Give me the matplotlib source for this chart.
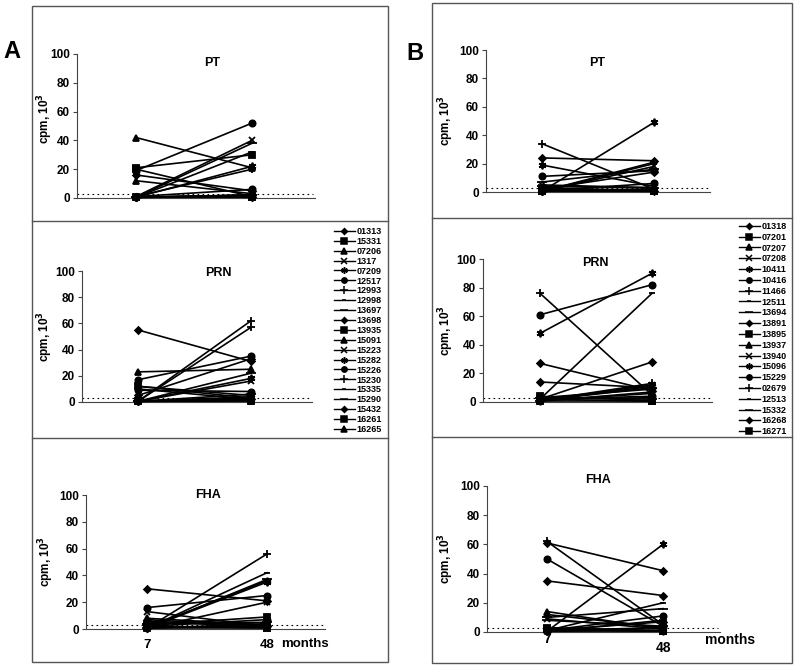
import numpy as np
import matplotlib
matplotlib.use('Agg')
import matplotlib.pyplot as plt
from matplotlib.lines import Line2D
from matplotlib.patches import Rectangle

plt.rcParams['font.family'] = ['Liberation Sans', 'DejaVu Sans']
plt.rcParams['font.weight'] = 'bold'

#--- data (cpm x 10^3 at 7 and 48 months) ---

ids_a = ['01313', '15331', '07206', '1317', '07209', '12517', '12993',
         '12998', '13697', '13698', '13935', '15091', '15223', '15282',
         '15226', '15230', '15335', '15290', '15432', '16261', '16265']

pt_a_7 = [16, 21, 42, 1, 0.5, 19, 1, 0.5, 0.5, 0.5, 20, 12, 0.5, 0.5,
          1, 0.5, 0.5, 0.5, 0.5, 1, 0.5]
pt_a_48 = [5, 30, 21, 40, 22, 52, 20, 32, 38, 2, 1, 3, 2, 1,
           6, 1.5, 1, 2, 1, 0.5, 2]

prn_a_7 = [55, 12, 23, 0.5, 0.5, 17, 0.5, 10, 0.5, 5, 0.5, 0.5, 12, 0.5,
           9, 0.5, 0.5, 0.5, 1, 0.5, 0.5]
prn_a_48 = [31, 3, 25, 16, 18, 35, 62, 2, 22, 33, 2, 3, 5, 4,
            8, 57, 1, 6, 2, 0.5, 1]

fha_a_7 = [30, 2, 5, 0.5, 0.5, 16, 0.5, 0.5, 0.5, 7, 3, 8, 13, 1,
           2, 0.5, 6, 4, 1, 0.5, 2]
fha_a_48 = [21, 1, 3, 20, 35, 25, 56, 42, 37, 2, 9, 3, 2, 36,
            7, 4, 1, 5, 2, 0.5, 1]

ids_b = ['01318', '07201', '07207', '07208', '10411', '10416', '11466',
         '12511', '13694', '13891', '13895', '13937', '13940', '15096',
         '15229', '02679', '12513', '15332', '16268', '16271']

pt_b_7 = [24, 3, 1, 0.5, 0.5, 11, 34, 0.5, 7, 2, 1, 0.5, 5, 19,
          1, 0.5, 2, 4, 0.5, 1]
pt_b_48 = [22, 1, 2, 18, 49, 15, 2, 20, 16, 14, 0.5, 2, 3, 4,
           6, 21, 1, 3, 1, 0.5]

prn_b_7 = [27, 4, 2, 1, 48, 61, 76, 2, 1, 14, 2, 1, 3, 1,
           2, 1, 0.5, 3, 2, 0.5]
prn_b_48 = [8, 1, 3, 12, 90, 82, 5, 76, 10, 10, 0.5, 6, 9, 11,
            4, 13, 7, 2, 28, 0.5]

fha_b_7 = [61, 3, 14, 1, 0.5, 50, 62, 1, 10, 35, 2, 12, 9, 0.5,
           1, 0.5, 1, 8, 1, 2]
fha_b_48 = [42, 1, 2, 3, 60, 4, 5, 20, 16, 25, 1, 3, 2, 1,
            11, 8, 0.5, 4, 7, 0.5]

# excel-ish marker cycle
markers = [('D', 3.5), ('s', 4.5), ('^', 4.5), ('x', 4.5), ((6, 2, 0), 5.5),
           ('o', 4.5), ('+', 6), ('_', 4), ('_', 7)]

W, H = 800, 671
fig = plt.figure(figsize=(W / 100, H / 100), dpi=100)


def fx(px):
    return px / W


def fy(py):
    return 1 - py / H


def panel(geom, v7, v48, title, title_xy, lab_x, lab_y=0.5):
    ax_x, p1, p2, right, y100, y0 = geom
    ax = fig.add_axes([fx(ax_x), fy(y0), (right - ax_x) / W, (y0 - y100) / H])
    sc = p2 - p1
    xl = (1 - (p1 - ax_x) / sc, 2 + (right - p2) / sc)
    ax.set_xlim(*xl)
    ax.set_ylim(0, 100)
    for i in range(len(v7)):
        m, ms = markers[i % len(markers)]
        ax.plot([1, 2], [v7[i], v48[i]], color='black', lw=1.2, marker=m,
                ms=ms, mew=1.3, clip_on=False, zorder=3)
    ax.plot([xl[0], xl[1] - 0.02], [3, 3], ls=(0, (1.5, 3)), color='black',
            lw=0.8, zorder=1)
    for s in ['top', 'right']:
        ax.spines[s].set_visible(False)
    for s in ['left', 'bottom']:
        ax.spines[s].set_color('#444444')
        ax.spines[s].set_linewidth(0.8)
    ax.set_yticks(np.arange(0, 101, 20))
    ax.tick_params(axis='y', length=3, width=0.8, pad=2, labelsize=8.5,
                   color='#444444')
    ax.set_xticks([])
    fig.text(fx(title_xy[0]), fy(title_xy[1]), title, fontsize=9,
             fontweight='bold', ha='center', va='center')
    ax.set_ylabel('cpm, 10$^\\mathbf{3}$', fontsize=8.5, fontweight='bold')
    ax.yaxis.set_label_coords((lab_x - ax_x) / (right - ax_x), lab_y)
    return ax


ax1 = panel((77, 136, 252, 315, 54, 198), pt_a_7, pt_a_48, 'PT',
            (212, 63), 55, 0.55)
ax2 = panel((82, 138, 251, 312, 271, 402), prn_a_7, prn_a_48, 'PRN',
            (218, 273), 55)
ax3 = panel((86, 147, 267, 325, 495, 629), fha_a_7, fha_a_48, 'FHA',
            (208, 495), 56)
ax4 = panel((486, 542, 654, 710, 50, 192), pt_b_7, pt_b_48, 'PT',
            (597, 63), 456)
ax5 = panel((483, 540, 652, 712, 259, 402), prn_b_7, prn_b_48, 'PRN',
            (595, 263), 456)
ax6 = panel((487, 547, 663, 720, 486, 632), fha_b_7, fha_b_48, 'FHA',
            (598, 480), 456)

# x labels
ax3.set_xticks([1, 2])
ax3.set_xticklabels(['7', '48'], fontsize=9.5)
ax3.tick_params(axis='x', length=0, pad=7)
fig.text(fx(281), fy(644), 'months', fontsize=9.5, fontweight='bold',
         ha='left', va='center')

tr = ax6.get_xaxis_transform()
ax6.text(1, -0.05, '7', transform=tr, fontsize=10, fontweight='bold',
         ha='center', va='center')
ax6.text(2, -0.11, '48', transform=tr, fontsize=10, fontweight='bold',
         ha='center', va='center')
fig.text(fx(730), fy(640), 'months', fontsize=10, fontweight='bold',
         ha='center', va='center')


# legends
def legend(ids, x, y, spacing):
    handles = []
    for i in range(len(ids)):
        m, ms = markers[i % len(markers)]
        handles.append(Line2D([], [], color='black', lw=1.0, marker=m,
                              ms=ms * 0.85, mew=1.1))
    fig.legend(handles, ids, loc='upper left', bbox_to_anchor=(fx(x), fy(y)),
               frameon=False, fontsize=6.5, handlelength=2.3,
               handletextpad=0.2, labelspacing=spacing, borderpad=0,
               borderaxespad=0)


legend(ids_a, 334, 227, 0.1)
legend(ids_b, 739, 222, 0.2)

# panel frames
frame = '#555555'
fig.add_artist(Rectangle((fx(32), fy(662)), fx(388) - fx(32), fy(6) - fy(662),
                         transform=fig.transFigure, fill=False,
                         edgecolor=frame, lw=1))
fig.add_artist(Rectangle((fx(432), fy(663)), fx(792) - fx(432), fy(3) - fy(663),
                         transform=fig.transFigure, fill=False,
                         edgecolor=frame, lw=1))
for yy in [221, 438]:
    fig.add_artist(Line2D([fx(32), fx(388)], [fy(yy), fy(yy)],
                          transform=fig.transFigure, color=frame, lw=1))
for yy in [218, 437]:
    fig.add_artist(Line2D([fx(432), fx(792)], [fy(yy), fy(yy)],
                          transform=fig.transFigure, color=frame, lw=1))

fig.text(fx(12), fy(52), 'A', fontsize=17, fontweight='bold',
         ha='center', va='center')
fig.text(fx(415), fy(54), 'B', fontsize=17, fontweight='bold',
         ha='center', va='center')

fig.savefig('out.png', dpi=100)
